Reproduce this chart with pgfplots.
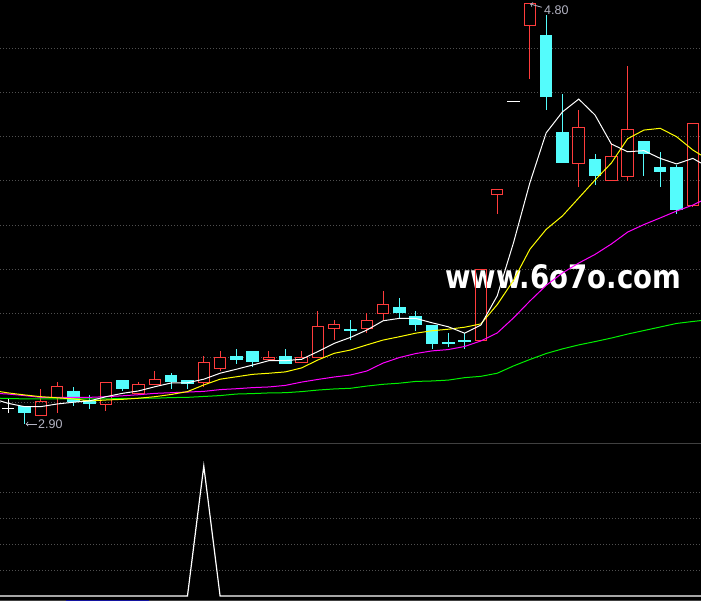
\documentclass[border=0pt]{standalone}
\usepackage{pgfplots}
\usepackage{pgfplotstable}
\usepackage{graphicx}
\usepackage{fontspec}
\pgfplotsset{compat=1.18}
\setmainfont{Liberation Sans}
\newfontfamily\wmfont{DejaVu Sans}

\definecolor{upred}{RGB}{255,60,60}
\definecolor{dncyan}{RGB}{84,252,252}
\definecolor{maten}{RGB}{255,255,0}
\definecolor{matwenty}{RGB}{255,0,255}
\definecolor{masixty}{RGB}{0,240,0}
\definecolor{gridc}{RGB}{80,80,80}
\definecolor{sepc}{RGB}{64,64,64}
\definecolor{lbl}{RGB}{180,180,195}
\definecolor{barblue}{RGB}{20,20,160}

% candles: index, open, high, low, close
\pgfplotstableread{
i O H L C
2 2.94 3.06 2.94 3.00
3 3.02 3.09 2.95 3.07
6 2.99 3.09 2.96 3.09
8 3.04 3.09 3.04 3.08
9 3.08 3.14 3.08 3.10
12 3.09 3.21 3.07 3.18
13 3.15 3.23 3.14 3.20
16 3.19 3.23 3.19 3.20
18 3.18 3.23 3.18 3.20
19 3.20 3.41 3.20 3.34
20 3.33 3.37 3.28 3.35
22 3.33 3.40 3.31 3.37
23 3.40 3.50 3.37 3.44
29 3.28 3.60 3.28 3.60
30 3.94 3.96 3.85 3.96
32 4.70 4.80 4.46 4.80
35 4.08 4.32 3.97 4.24
37 4.00 4.17 4.00 4.11
38 4.02 4.52 4.00 4.23
42 3.89 4.26 3.88 4.26
}\upbars

\pgfplotstableread{
i O H L C
1 2.98 2.98 2.90 2.95
4 3.05 3.07 2.98 3.00
5 3.01 3.03 2.97 2.99
7 3.10 3.10 3.05 3.06
10 3.12 3.13 3.06 3.09
11 3.10 3.10 3.06 3.08
14 3.21 3.24 3.17 3.19
15 3.23 3.23 3.16 3.18
17 3.21 3.24 3.17 3.17
21 3.33 3.37 3.28 3.32
24 3.43 3.47 3.38 3.40
25 3.39 3.41 3.32 3.35
26 3.35 3.35 3.24 3.26
27 3.27 3.31 3.25 3.26
28 3.28 3.31 3.24 3.27
33 4.66 4.75 4.32 4.38
34 4.22 4.39 4.08 4.08
36 4.10 4.12 3.98 4.02
39 4.18 4.18 4.02 4.12
40 4.06 4.13 3.97 4.04
41 4.06 4.07 3.85 3.87
}\dnbars

\pgfplotstableread{
i O H L C
0 2.97 3.02 2.95 2.97
31 4.36 4.36 4.36 4.36
}\flatbars

% moving averages: index, MA5, MA10, MA20, MA60
\pgfplotstableread{
i A B D E
-0.5 3.005 3.047 3.038 3.017
0 2.994 3.041 3.036 3.016
1 2.979 3.032 3.029 3.014
2 2.979 3.024 3.021 3.014
3 2.991 3.019 3.021 3.014
4 2.999 3.014 3.021 3.014
5 3.005 3.005 3.021 3.014
6 3.024 3.009 3.024 3.014
7 3.039 3.012 3.028 3.016
8 3.050 3.017 3.033 3.017
9 3.069 3.024 3.039 3.017
10 3.086 3.034 3.042 3.020
11 3.087 3.047 3.045 3.021
12 3.103 3.077 3.048 3.025
13 3.130 3.103 3.056 3.029
14 3.148 3.114 3.060 3.036
15 3.167 3.125 3.065 3.038
16 3.187 3.130 3.068 3.041
17 3.187 3.136 3.075 3.042
18 3.193 3.154 3.090 3.047
19 3.228 3.190 3.102 3.054
20 3.265 3.220 3.113 3.059
21 3.292 3.235 3.122 3.062
22 3.325 3.258 3.140 3.072
23 3.367 3.280 3.176 3.080
24 3.378 3.295 3.201 3.085
25 3.378 3.311 3.219 3.093
26 3.358 3.322 3.231 3.095
27 3.340 3.329 3.237 3.099
28 3.311 3.338 3.251 3.110
29 3.348 3.353 3.276 3.116
30 3.480 3.440 3.312 3.130
31 3.720 3.550 3.380 3.163
32 3.990 3.690 3.456 3.192
33 4.216 3.780 3.527 3.219
34 4.311 3.841 3.583 3.240
35 4.369 3.922 3.628 3.258
36 4.297 4.003 3.667 3.273
37 4.166 4.080 3.714 3.289
38 4.131 4.190 3.768 3.307
39 4.136 4.229 3.802 3.323
40 4.101 4.237 3.832 3.339
41 4.076 4.199 3.863 3.355
42 4.101 4.139 3.890 3.364
42.5 4.080 4.116 3.908 3.368
}\malines

\pgfplotsset{
  vbar/.style={draw=none, mark=none, forget plot,
    error bars/.cd, y dir=both, y explicit, error mark=none,
    error bar style={solid, #1}},
  hbar/.style 2 args={draw=none, mark=none, forget plot,
    error bars/.cd, x dir=both, x fixed=#1, error mark=none,
    error bar style={solid, line cap=butt, #2}},
}

\begin{document}
\begin{tikzpicture}
\fill[black] (0,0) rectangle (701pt,601pt);

\begin{axis}[
  at={(0pt,157pt)}, anchor=south west,
  width=701pt, height=444pt, scale only axis,
  xmin=-0.5, xmax=42.5, ymin=2.8102, ymax=4.8169,
  axis line style={draw=none}, tick style={draw=none},
  xtick=\empty, ytick={3.0,3.2,3.4,3.6,3.8,4.0,4.2,4.4,4.6}, yticklabels={},
  ymajorgrids, major grid style={gridc, line width=0.8pt, dash pattern=on 1pt off 2pt},
]
% watermark
\node[anchor=base, text=white, inner sep=0pt] at (axis cs:34.04,3.511)
  {\resizebox{236pt}{24pt}{\wmfont\bfseries www.6o7o.com}};

% rising candles: hollow red boxes, wicks outside the body
\addplot[vbar={upred, line width=1pt}] table[x=i, y expr={(\thisrow{H}+\thisrow{C})/2}, y error expr={(\thisrow{H}-\thisrow{C})/2}] {\upbars};
\addplot[vbar={upred, line width=1pt}] table[x=i, y expr={(\thisrow{O}+\thisrow{L})/2}, y error expr={(\thisrow{O}-\thisrow{L})/2}] {\upbars};
\addplot[vbar={upred, line width=1pt, line cap=rect}] table[x expr={\thisrow{i}-0.353}, y expr={(\thisrow{O}+\thisrow{C})/2}, y error expr={(\thisrow{C}-\thisrow{O})/2}] {\upbars};
\addplot[vbar={upred, line width=1pt, line cap=rect}] table[x expr={\thisrow{i}+0.353}, y expr={(\thisrow{O}+\thisrow{C})/2}, y error expr={(\thisrow{C}-\thisrow{O})/2}] {\upbars};
\addplot[hbar={0.353}{upred, line width=1pt}] table[x=i, y=O] {\upbars};
\addplot[hbar={0.353}{upred, line width=1pt}] table[x=i, y=C] {\upbars};

% falling candles: filled cyan
\addplot[vbar={dncyan, line width=1pt}] table[x=i, y expr={(\thisrow{H}+\thisrow{L})/2}, y error expr={(\thisrow{H}-\thisrow{L})/2}] {\dnbars};
\addplot[vbar={dncyan, line width=12.5pt, line cap=butt}] table[x=i, y expr={(\thisrow{O}+\thisrow{C})/2}, y error expr={(\thisrow{O}-\thisrow{C})/2}] {\dnbars};

% flat candles
\addplot[vbar={white, line width=1pt}] table[x=i, y expr={(\thisrow{H}+\thisrow{L})/2}, y error expr={(\thisrow{H}-\thisrow{L})/2}] {\flatbars};
\addplot[hbar={0.383}{white, line width=1pt}] table[x=i, y=C] {\flatbars};

% moving averages
\addplot[masixty, line width=1pt, mark=none] table[x=i, y=E] {\malines};
\addplot[matwenty, line width=1pt, mark=none] table[x=i, y=D] {\malines};
\addplot[maten, line width=1pt, mark=none] table[x=i, y=B] {\malines};
\addplot[white, line width=1pt, mark=none] table[x=i, y=A] {\malines};

% high / low markers
\draw[lbl, line width=0.8pt, ->] (axis cs:1.75,2.9006) -- (axis cs:1.08,2.9006);
\node[lbl, anchor=west, inner sep=0pt, font=\fontsize{12.5pt}{14pt}\selectfont] at (axis cs:1.83,2.9006) {2.90};
\draw[lbl, line width=0.8pt, ->] (axis cs:32.73,4.784) -- (axis cs:32.02,4.799);
\node[lbl, anchor=west, inner sep=0pt, font=\fontsize{12.5pt}{14pt}\selectfont] at (axis cs:32.87,4.772) {4.80};
\end{axis}

\begin{axis}[
  at={(0pt,0pt)}, anchor=south west,
  width=701pt, height=157pt, scale only axis,
  xmin=-0.5, xmax=42.5, ymin=-0.1923, ymax=5.846,
  axis line style={draw=none}, tick style={draw=none},
  xtick=\empty, ytick={1,2,3,4}, yticklabels={},
  ymajorgrids, major grid style={gridc, line width=0.8pt, dash pattern=on 1pt off 2pt},
]
\draw[sepc, line width=1pt] (rel axis cs:0,1) -- (rel axis cs:1,1);
\draw[sepc, line width=1pt] (rel axis cs:0,0.0032) -- (rel axis cs:1,0.0032);
\draw[barblue, line width=1.5pt] (rel axis cs:0.094,0.0032) -- (rel axis cs:0.2126,0.0032);
\addplot[white, line width=1.2pt, mark=none] coordinates {
(-0.5,0) (0,0) (1,0) (2,0) (3,0) (4,0) (5,0) (6,0) (7,0) (8,0) (9,0) (10,0) (11,0)
(12,5)
(13,0) (14,0) (15,0) (16,0) (17,0) (18,0) (19,0) (20,0) (21,0) (22,0) (23,0) (24,0)
(25,0) (26,0) (27,0) (28,0) (29,0) (30,0) (31,0) (32,0) (33,0) (34,0) (35,0) (36,0)
(37,0) (38,0) (39,0) (40,0) (41,0) (42,0) (42.5,0)};
\end{axis}

\pgfresetboundingbox
\path[use as bounding box] (0,0) rectangle (701pt,601pt);
\end{tikzpicture}
\end{document}
